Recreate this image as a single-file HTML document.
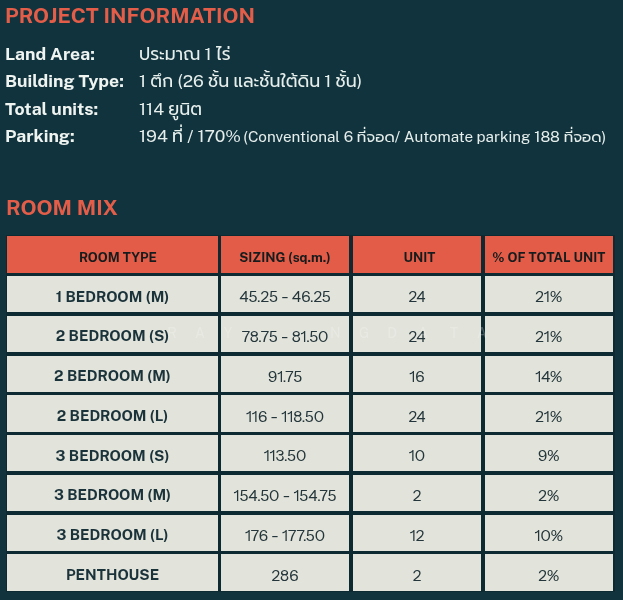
<!DOCTYPE html>
<html lang="th">
<head>
<meta charset="utf-8">
<title>Project Information</title>
<style>
  html, body { margin: 0; padding: 0; }
  body {
    width: 623px; height: 600px; overflow: hidden; position: relative;
    background: #11333e;
    font-family: "Public Sans", "Liberation Sans", "Prompt", "Anuphan", "Noto Sans Thai", sans-serif;
    color: #eef0ea;
  }
  #pg { position: absolute; left: 0; top: 0; width: 623px; height: 600px; filter: blur(0.4px); }
  .t { position: absolute; white-space: nowrap; line-height: 1; }
  h2 { margin: 0; font-weight: 720; color: #e45d48; }
  .lbl { font-weight: 700; font-size: 17.6px; color: #eff4f1; }
  .val { font-weight: 400; font-size: 17.4px; color: #e7efec; }
  .val small { font-size: 15.2px; }
  .tbl { position: absolute; left: 0; top: 0; }
  .c { position: absolute; display: flex; align-items: center; justify-content: center; white-space: nowrap; line-height: 1; }
  .hd { box-sizing: border-box; padding-top: 7px; background: #e25c48; color: #161c1d; font-weight: 750; font-size: 13.1px; }
  .bd { box-sizing: border-box; padding-top: 6px; background: #e2e3da; color: #1d3036; font-size: 14.9px; }
  .bd.k { font-weight: 680; color: #1a323a; }
  .bd.n { font-family: "Instrument Sans", "Public Sans", "Liberation Sans", sans-serif; font-size: 15.5px; font-weight: 450; color: #24363b; }
  .wmk span { position: absolute; top: 326px; width: 10px; text-align: center; color: rgba(255,255,255,0.24); font-size: 14px; font-weight: 400; line-height: 1; }
</style>
</head>
<body>
<div id="pg">
  <h2 class="t" style="left:5px; top:5px; font-size:21.1px;">PROJECT INFORMATION</h2>

  <div class="t lbl" style="left:5px; top:45px;">Land Area:</div>
  <div class="t val" style="left:139px; top:45px;">ประมาณ 1 ไร่</div>

  <div class="t lbl" style="left:5px; top:72px;">Building Type:</div>
  <div class="t val" style="left:139px; top:72px;">1 ตึก (26 ชั้น และชั้นใต้ดิน 1 ชั้น)</div>

  <div class="t lbl" style="left:5px; top:99.5px;">Total units:</div>
  <div class="t val" style="left:139px; top:99.5px;">114 ยูนิต</div>

  <div class="t lbl" style="left:5px; top:127px;">Parking:</div>
  <div class="t val" style="left:139px; top:127px;"><span class="m">194 ที่ / 170%</span> <small style="margin-left:-2px">(Conventional 6 ที่จอด/ Automate parking 188 ที่จอด)</small></div>

  <h2 class="t" style="left:6px; top:196.5px; font-size:21.2px;">ROOM MIX</h2>

  <div style="position:absolute; left:5.5px; top:234.5px; width:609px; height:357.5px; background:#0d2a33;"></div>
  <div class="tbl">
    <!-- header -->
    <div class="c hd" style="left:7px; top:236px; width:211px; height:36.5px; padding-left:10.8px;">ROOM TYPE</div>
    <div class="c hd" style="left:221px; top:236px; width:128px; height:36.5px;">SIZING (sq.m.)</div>
    <div class="c hd" style="left:353px; top:236px; width:128px; height:36.5px; padding-left:5px;">UNIT</div>
    <div class="c hd" style="left:484.5px; top:236px; width:128.5px; height:36.5px;">% OF TOTAL UNIT</div>
  </div>
  <div class="tbl">
    <div class="c bd k" style="left:7px; top:276.0px; width:211px; height:36.25px;">1 BEDROOM (M)</div>
    <div class="c bd n" style="left:221px; top:276.0px; width:128px; height:36.25px;">45.25 - 46.25</div>
    <div class="c bd n" style="left:353px; top:276.0px; width:128px; height:36.25px;">24</div>
    <div class="c bd n" style="left:484.5px; top:276.0px; width:128.5px; height:36.25px;">21%</div>
    <div class="c bd k" style="left:7px; top:315.75px; width:211px; height:36.25px;">2 BEDROOM (S)</div>
    <div class="c bd n" style="left:221px; top:315.75px; width:128px; height:36.25px;">78.75 - 81.50</div>
    <div class="c bd n" style="left:353px; top:315.75px; width:128px; height:36.25px;">24</div>
    <div class="c bd n" style="left:484.5px; top:315.75px; width:128.5px; height:36.25px;">21%</div>
    <div class="c bd k" style="left:7px; top:355.5px; width:211px; height:36.25px;">2 BEDROOM (M)</div>
    <div class="c bd n" style="left:221px; top:355.5px; width:128px; height:36.25px;">91.75</div>
    <div class="c bd n" style="left:353px; top:355.5px; width:128px; height:36.25px;">16</div>
    <div class="c bd n" style="left:484.5px; top:355.5px; width:128.5px; height:36.25px;">14%</div>
    <div class="c bd k" style="left:7px; top:395.25px; width:211px; height:36.25px;">2 BEDROOM (L)</div>
    <div class="c bd n" style="left:221px; top:395.25px; width:128px; height:36.25px;">116 - 118.50</div>
    <div class="c bd n" style="left:353px; top:395.25px; width:128px; height:36.25px;">24</div>
    <div class="c bd n" style="left:484.5px; top:395.25px; width:128.5px; height:36.25px;">21%</div>
    <div class="c bd k" style="left:7px; top:435.0px; width:211px; height:36.25px;">3 BEDROOM (S)</div>
    <div class="c bd n" style="left:221px; top:435.0px; width:128px; height:36.25px;">113.50</div>
    <div class="c bd n" style="left:353px; top:435.0px; width:128px; height:36.25px;">10</div>
    <div class="c bd n" style="left:484.5px; top:435.0px; width:128.5px; height:36.25px;">9%</div>
    <div class="c bd k" style="left:7px; top:474.75px; width:211px; height:36.25px;">3 BEDROOM (M)</div>
    <div class="c bd n" style="left:221px; top:474.75px; width:128px; height:36.25px;">154.50 - 154.75</div>
    <div class="c bd n" style="left:353px; top:474.75px; width:128px; height:36.25px;">2</div>
    <div class="c bd n" style="left:484.5px; top:474.75px; width:128.5px; height:36.25px;">2%</div>
    <div class="c bd k" style="left:7px; top:514.5px; width:211px; height:36.25px;">3 BEDROOM (L)</div>
    <div class="c bd n" style="left:221px; top:514.5px; width:128px; height:36.25px;">176 - 177.50</div>
    <div class="c bd n" style="left:353px; top:514.5px; width:128px; height:36.25px;">12</div>
    <div class="c bd n" style="left:484.5px; top:514.5px; width:128.5px; height:36.25px;">10%</div>
    <div class="c bd k" style="left:7px; top:554.25px; width:211px; height:36.25px;">PENTHOUSE</div>
    <div class="c bd n" style="left:221px; top:554.25px; width:128px; height:36.25px;">286</div>
    <div class="c bd n" style="left:353px; top:554.25px; width:128px; height:36.25px;">2</div>
    <div class="c bd n" style="left:484.5px; top:554.25px; width:128.5px; height:36.25px;">2%</div>
  </div>
  <div class="wmk">
    <span style="left:167px;">R</span>
    <span style="left:195px;">A</span>
    <span style="left:223px;">Y</span>
    <span style="left:330px;">N</span>
    <span style="left:359px;">G</span>
    <span style="left:387px;">D</span>
    <span style="left:418px;">A</span>
    <span style="left:449px;">T</span>
    <span style="left:477px;">A</span>
  </div>
</div>
</body>
</html>
